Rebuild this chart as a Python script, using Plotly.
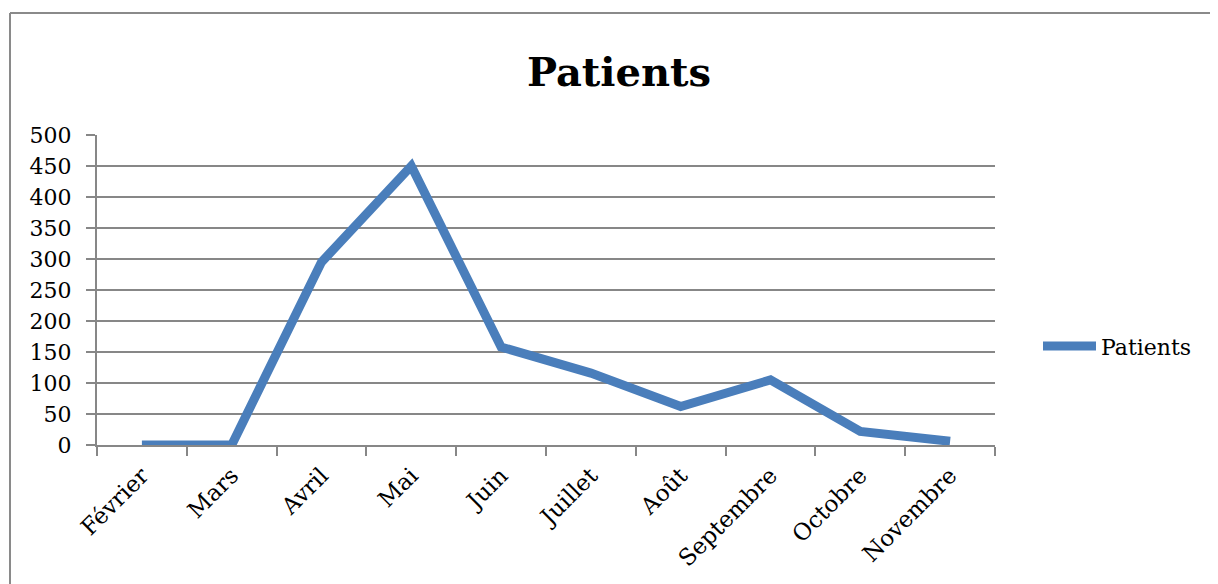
import plotly.graph_objects as go

months = ["Février", "Mars", "Avril", "Mai", "Juin", "Juillet", "Août",
          "Septembre", "Octobre", "Novembre"]
patients = [0, 0, 295, 450, 158, 116, 62, 105, 22, 6]
y_ticks = list(range(0, 501, 50))

OFF = 8  # page body margin
W, H = 1218 - OFF, 584 - OFF
L, T = 97 - OFF, 135 - OFF
pw, ph = 995 - 97, 445 - 135
R, B = W - L - pw, H - T - ph

blue = "#4a7ebb"
fig = go.Figure()
fig.add_trace(go.Scatter(
    x=months, y=patients, mode="lines", name="Patients",
    line=dict(color=blue, width=9), showlegend=False,
))

grid = "#878787"
font = "DejaVu Serif"
fig.update_layout(
    width=W, height=H,
    margin=dict(l=L, r=R, t=T, b=B),
    paper_bgcolor="white", plot_bgcolor="white",
    font=dict(family=font, size=22, color="black"),
    title=dict(text="<b>Patients</b>", x=(619 - OFF) / W, xanchor="center",
               y=1 - (72 - OFF) / H, yanchor="middle",
               font=dict(family=font, size=40, color="black")),
    xaxis=dict(
        type="category", showgrid=False, showline=True, linecolor=grid,
        linewidth=2, ticks="outside", ticklen=9, tickcolor=grid,
        tickwidth=2, tickson="boundaries", tickangle=-45,
        tickfont=dict(family=font, size=23), zeroline=False,
        ticklabelstandoff=6,
        range=[-0.5, len(months) - 0.5],
    ),
    yaxis=dict(
        range=[0, 500], tickvals=y_ticks, showgrid=True, gridcolor=grid,
        gridwidth=2, showline=True, linecolor=grid, linewidth=2,
        ticks="outside", ticklen=9, tickcolor=grid, tickwidth=2,
        zeroline=False, tickfont=dict(family=font, size=22),
        ticklabelstandoff=10,
    ),
)

def px(xp):
    return (xp - 97) / pw

def py(yp):
    return (445 - yp) / ph

# legend drawn as a sample line plus label
fig.add_shape(type="line", xref="paper", yref="paper",
              x0=px(1043), x1=px(1096), y0=py(346), y1=py(346),
              line=dict(color=blue, width=9))
fig.add_annotation(xref="paper", yref="paper", x=px(1099), y=py(347),
                   text="Patients", showarrow=False, xanchor="left",
                   yanchor="middle", font=dict(family=font, size=22))

# outer frame of the chart
fig.add_shape(type="line", xref="paper", yref="paper", x0=px(10), x1=px(10),
              y0=py(13), y1=-1, line=dict(color="#8a8a8a", width=2))
fig.add_shape(type="line", xref="paper", yref="paper", x0=px(10), x1=2,
              y0=py(13), y1=py(13), line=dict(color="#8a8a8a", width=2))

fig.write_html("out.html")
